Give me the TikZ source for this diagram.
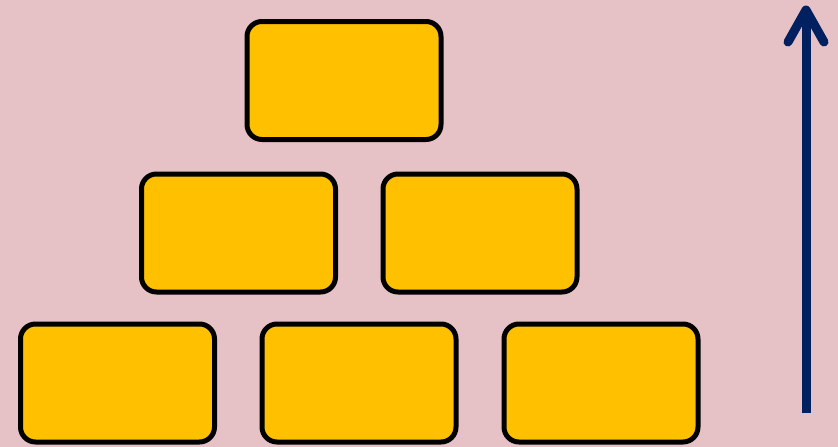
\documentclass[tikz,border=0pt]{standalone}
\begin{document}
\begin{tikzpicture}[x=1pt,y=1pt,
  brick/.style={draw=black, line width=5pt, fill=brickfill, rounded corners=15pt,
    rectangle, minimum width=194pt, minimum height=118pt, inner sep=0pt},
  uparrow/.style={draw=arrownavy, line width=9pt}]
\definecolor{bgpink}{HTML}{E6C2C6}
\definecolor{brickfill}{HTML}{FFC000}
\definecolor{arrownavy}{HTML}{002060}
\fill[bgpink] (0,0) rectangle (838,-447);
\useasboundingbox (0,0) rectangle (838,-447);
\node[brick] (t)  at (344,-80.5) {};
\node[brick] (m1) at (238.5,-233) {};
\node[brick] (m2) at (480,-233) {};
\node[brick] (b1) at (117.5,-383) {};
\node[brick] (b2) at (359,-383) {};
\node[brick] (b3) at (601,-383) {};
\coordinate (abot) at (806,-413);
\coordinate (atop) at (806,-12);
\coordinate (atip) at (806,-10);
\coordinate (al) at (788,-42);
\coordinate (ar) at (824,-42);
\draw[uparrow] (abot) -- (atop);
\draw[uparrow, line cap=round, line join=round] (al) -- (atip) -- (ar);
\end{tikzpicture}
\end{document}
